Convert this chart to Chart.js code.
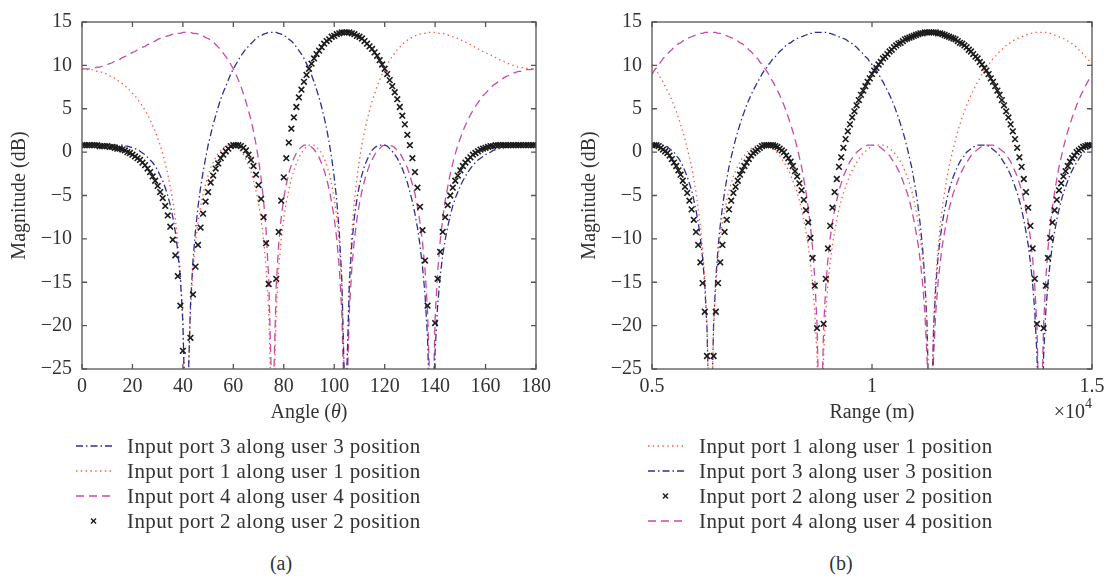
<!DOCTYPE html>
<html lang="en">
<head>
<meta charset="utf-8">
<title>Magnitude along angle and range</title>
<script src="https://cdn.jsdelivr.net/npm/chart.js@4.4.1/dist/chart.umd.min.js"></script>
<style>
  html, body { margin: 0; padding: 0; background: #fff; }
  #page { position: relative; width: 1111px; height: 578px; overflow: hidden;
          font-family: "Liberation Serif", "Times New Roman", serif; color: #333; }
  .plot { position: absolute; top: 0; height: 440px; }
  .legend { position: absolute; font-size: 21px; letter-spacing: 0.4px; }
  .legend .row { position: absolute; left: 0; height: 26px; white-space: nowrap; display: flex; align-items: center; }
  .legend svg { display: block; flex: none; }
  .caption { position: absolute; top: 550px; width: 60px; margin-left: -30px; text-align: center;
             font-size: 20px; line-height: 26px; }
</style>
</head>
<body>
<div id="page">
  <div class="plot" style="left:0;width:560px"><canvas id="chartA"></canvas></div>
  <div class="plot" style="left:560px;width:551px"><canvas id="chartB"></canvas></div>
  <div class="legend" id="legendA" style="left:76px;top:433px"></div>
  <div class="legend" id="legendB" style="left:648px;top:433px"></div>
  <div class="caption" style="left:281px">(a)</div>
  <div class="caption" style="left:841px">(b)</div>
</div>
<script>
'use strict';

/* ---- (a) magnitude against angle, 1 degree steps ---- */
const angleDeg = [
  0,1,2,3,4,5,6,7,8,9,10,11,12,13,14,15,16,17,18,19,
  20,21,22,23,24,25,26,27,28,29,30,31,32,33,34,35,36,37,38,39,
  40,41,42,43,44,45,46,47,48,49,50,51,52,53,54,55,56,57,58,59,
  60,61,62,63,64,65,66,67,68,69,70,71,72,73,74,75,76,77,78,79,
  80,81,82,83,84,85,86,87,88,89,90,91,92,93,94,95,96,97,98,99,
  100,101,102,103,104,105,106,107,108,109,110,111,112,113,114,115,116,117,118,119,
  120,121,122,123,124,125,126,127,128,129,130,131,132,133,134,135,136,137,138,139,
  140,141,142,143,144,145,146,147,148,149,150,151,152,153,154,155,156,157,158,159,
  160,161,162,163,164,165,166,167,168,169,170,171,172,173,174,175,176,177,178,179,
  180
];

const port3Angle = [
  0.8,0.8,0.8,0.8,0.8,0.8,0.8,0.8,0.8,0.8,
  0.8,0.8,0.8,0.8,0.8,0.8,0.8,0.7,0.7,0.6,
  0.5,0.4,0.3,0.1,-0.1,-0.3,-0.6,-0.9,-1.2,-1.6,
  -2.1,-2.7,-3.3,-4.1,-5.0,-6.1,-7.5,-9.2,-11.5,-14.6,
  -19.7,-31.7,-27.7,-17.7,-12.5,-9.0,-6.3,-4.1,-2.3,-0.7,
  0.8,2.0,3.2,4.2,5.2,6.1,6.9,7.6,8.3,9.0,
  9.6,10.1,10.6,11.1,11.5,11.9,12.2,12.5,12.8,13.1,
  13.3,13.4,13.6,13.7,13.8,13.8,13.8,13.8,13.7,13.6,
  13.4,13.3,13.0,12.8,12.5,12.1,11.7,11.3,10.8,10.2,
  9.6,8.9,8.1,7.2,6.3,5.2,4.0,2.7,1.1,-0.7,
  -2.9,-5.6,-9.2,-14.6,-26.0,-25.5,-15.2,-10.5,-7.5,-5.4,
  -3.8,-2.6,-1.6,-0.9,-0.3,0.2,0.5,0.7,0.8,0.8,
  0.8,0.7,0.4,0.1,-0.3,-0.7,-1.3,-1.9,-2.7,-3.5,
  -4.6,-5.7,-7.1,-8.7,-10.7,-13.2,-16.4,-21.4,-31.3,-35.0,
  -22.9,-17.7,-14.3,-11.9,-10.1,-8.6,-7.3,-6.2,-5.3,-4.6,
  -3.9,-3.3,-2.8,-2.3,-1.9,-1.5,-1.2,-0.9,-0.7,-0.5,
  -0.3,-0.1,0.0,0.2,0.3,0.4,0.4,0.5,0.6,0.6,
  0.7,0.7,0.7,0.7,0.8,0.8,0.8,0.8,0.8,0.8,0.8
];

const port1Angle = [
  9.6,9.6,9.5,9.5,9.5,9.4,9.3,9.3,9.2,9.1,
  9.0,8.8,8.7,8.5,8.3,8.1,7.9,7.7,7.4,7.1,
  6.8,6.5,6.1,5.7,5.3,4.8,4.3,3.7,3.1,2.4,
  1.6,0.8,-0.2,-1.3,-2.5,-4.0,-5.6,-7.7,-10.3,-13.8,
  -19.2,-31.4,-28.0,-18.3,-13.5,-10.4,-8.1,-6.3,-4.8,-3.7,
  -2.7,-1.8,-1.2,-0.6,-0.1,0.2,0.5,0.7,0.8,0.8,
  0.8,0.7,0.4,0.1,-0.3,-0.9,-1.5,-2.3,-3.3,-4.5,
  -5.9,-7.7,-10.1,-13.3,-18.2,-28.8,-29.6,-18.4,-13.3,-10.0,
  -7.6,-5.8,-4.3,-3.1,-2.1,-1.3,-0.6,-0.1,0.3,0.6,
  0.8,0.8,0.8,0.6,0.3,-0.1,-0.7,-1.5,-2.4,-3.7,
  -5.3,-7.5,-10.5,-15.4,-26.4,-25.2,-14.4,-9.1,-5.6,-3.0,
  -0.9,0.9,2.4,3.7,4.8,5.8,6.7,7.6,8.3,9.0,
  9.6,10.1,10.6,11.0,11.4,11.8,12.1,12.4,12.7,12.9,
  13.1,13.2,13.4,13.5,13.6,13.7,13.7,13.8,13.8,13.8,
  13.8,13.7,13.7,13.7,13.6,13.5,13.4,13.3,13.2,13.1,
  13.0,12.8,12.7,12.5,12.4,12.2,12.1,11.9,11.8,11.6,
  11.5,11.3,11.2,11.0,10.9,10.7,10.6,10.5,10.3,10.2,
  10.1,10.0,9.9,9.8,9.8,9.7,9.7,9.6,9.6,9.6,9.6
];

const port4Angle = [
  9.6,9.6,9.6,9.6,9.7,9.7,9.8,9.8,9.9,10.0,
  10.1,10.2,10.3,10.5,10.6,10.7,10.9,11.0,11.2,11.3,
  11.5,11.6,11.8,11.9,12.1,12.2,12.4,12.5,12.7,12.8,
  13.0,13.1,13.2,13.3,13.4,13.5,13.6,13.7,13.7,13.7,
  13.8,13.8,13.8,13.8,13.7,13.7,13.6,13.5,13.4,13.2,
  13.1,12.9,12.7,12.4,12.1,11.8,11.4,11.0,10.6,10.1,
  9.6,9.0,8.3,7.6,6.7,5.8,4.8,3.7,2.4,0.9,
  -0.9,-3.0,-5.6,-9.1,-14.4,-25.2,-26.4,-15.4,-10.5,-7.5,
  -5.3,-3.7,-2.4,-1.5,-0.7,-0.1,0.3,0.6,0.8,0.8,
  0.8,0.6,0.3,-0.1,-0.6,-1.3,-2.1,-3.1,-4.3,-5.8,
  -7.6,-10.0,-13.3,-18.4,-29.6,-28.8,-18.2,-13.3,-10.1,-7.7,
  -5.9,-4.5,-3.3,-2.3,-1.5,-0.9,-0.3,0.1,0.4,0.7,
  0.8,0.8,0.8,0.7,0.5,0.2,-0.1,-0.6,-1.2,-1.8,
  -2.7,-3.7,-4.8,-6.3,-8.1,-10.4,-13.5,-18.3,-28.0,-31.4,
  -19.2,-13.8,-10.3,-7.7,-5.6,-4.0,-2.5,-1.3,-0.2,0.8,
  1.6,2.4,3.1,3.7,4.3,4.8,5.3,5.7,6.1,6.5,
  6.8,7.1,7.4,7.7,7.9,8.1,8.3,8.5,8.7,8.8,
  9.0,9.1,9.2,9.3,9.3,9.4,9.5,9.5,9.5,9.6,9.6
];

const port2Angle = [
  0.8,0.8,0.8,0.8,0.8,0.8,0.8,0.7,0.7,0.7,
  0.7,0.6,0.6,0.5,0.4,0.4,0.3,0.2,0.0,-0.1,
  -0.3,-0.5,-0.7,-0.9,-1.2,-1.5,-1.9,-2.3,-2.8,-3.3,
  -3.9,-4.6,-5.3,-6.2,-7.3,-8.6,-10.1,-11.9,-14.3,-17.7,
  -22.9,-35.0,-31.3,-21.4,-16.4,-13.2,-10.7,-8.7,-7.1,-5.7,
  -4.6,-3.5,-2.7,-1.9,-1.3,-0.7,-0.3,0.1,0.4,0.7,
  0.8,0.8,0.8,0.7,0.5,0.2,-0.3,-0.9,-1.6,-2.6,
  -3.8,-5.4,-7.5,-10.5,-15.2,-25.5,-26.0,-14.6,-9.2,-5.6,
  -2.9,-0.7,1.1,2.7,4.0,5.2,6.3,7.2,8.1,8.9,
  9.6,10.2,10.8,11.3,11.7,12.1,12.5,12.8,13.0,13.3,
  13.4,13.6,13.7,13.8,13.8,13.8,13.8,13.7,13.6,13.4,
  13.3,13.1,12.8,12.5,12.2,11.9,11.5,11.1,10.6,10.1,
  9.6,9.0,8.3,7.6,6.9,6.1,5.2,4.2,3.2,2.0,
  0.8,-0.7,-2.3,-4.1,-6.3,-9.0,-12.5,-17.7,-27.7,-31.7,
  -19.7,-14.6,-11.5,-9.2,-7.5,-6.1,-5.0,-4.1,-3.3,-2.7,
  -2.1,-1.6,-1.2,-0.9,-0.6,-0.3,-0.1,0.1,0.3,0.4,
  0.5,0.6,0.7,0.7,0.8,0.8,0.8,0.8,0.8,0.8,
  0.8,0.8,0.8,0.8,0.8,0.8,0.8,0.8,0.8,0.8,0.8
];

/* ---- (b) magnitude against range, 50 m steps ---- */
const rangeM = [
  5000,5050,5100,5150,5200,5250,5300,5350,5400,5450,
  5500,5550,5600,5650,5700,5750,5800,5850,5900,5950,
  6000,6050,6100,6150,6200,6250,6300,6350,6400,6450,
  6500,6550,6600,6650,6700,6750,6800,6850,6900,6950,
  7000,7050,7100,7150,7200,7250,7300,7350,7400,7450,
  7500,7550,7600,7650,7700,7750,7800,7850,7900,7950,
  8000,8050,8100,8150,8200,8250,8300,8350,8400,8450,
  8500,8550,8600,8650,8700,8750,8800,8850,8900,8950,
  9000,9050,9100,9150,9200,9250,9300,9350,9400,9450,
  9500,9550,9600,9650,9700,9750,9800,9850,9900,9950,
  10000,10050,10100,10150,10200,10250,10300,10350,10400,10450,
  10500,10550,10600,10650,10700,10750,10800,10850,10900,10950,
  11000,11050,11100,11150,11200,11250,11300,11350,11400,11450,
  11500,11550,11600,11650,11700,11750,11800,11850,11900,11950,
  12000,12050,12100,12150,12200,12250,12300,12350,12400,12450,
  12500,12550,12600,12650,12700,12750,12800,12850,12900,12950,
  13000,13050,13100,13150,13200,13250,13300,13350,13400,13450,
  13500,13550,13600,13650,13700,13750,13800,13850,13900,13950,
  14000,14050,14100,14150,14200,14250,14300,14350,14400,14450,
  14500,14550,14600,14650,14700,14750,14800,14850,14900,14950,
  15000
];

const port1Range = [
  10.1,9.7,9.4,9.0,8.5,8.1,7.6,
  7.1,6.6,6.0,5.4,4.7,4.0,3.2,2.4,1.5,0.5,
  -0.6,-1.7,-3.1,-4.6,-6.4,-8.5,-11.1,-14.6,-19.8,-30.9,
  -31.1,-20.3,-15.4,-12.2,-9.9,-8.1,-6.7,-5.5,-4.4,-3.6,
  -2.8,-2.2,-1.6,-1.1,-0.7,-0.4,0.0,0.2,0.4,0.6,
  0.7,0.8,0.8,0.8,0.8,0.8,0.7,0.5,0.3,0.1,
  -0.1,-0.4,-0.8,-1.2,-1.6,-2.1,-2.6,-3.3,-4.0,-4.7,
  -5.6,-6.6,-7.8,-9.2,-10.7,-12.7,-15.1,-18.4,-23.5,-34.4,
  -34.4,-23.5,-18.4,-15.1,-12.7,-10.7,-9.2,-7.8,-6.6,-5.6,
  -4.7,-4.0,-3.3,-2.6,-2.1,-1.6,-1.2,-0.8,-0.4,-0.1,
  0.1,0.3,0.5,0.7,0.8,0.8,0.8,0.8,0.8,0.7,
  0.6,0.4,0.2,0.0,-0.4,-0.7,-1.1,-1.6,-2.2,-2.8,
  -3.6,-4.4,-5.5,-6.7,-8.1,-9.9,-12.2,-15.4,-20.3,-31.1,
  -30.9,-19.8,-14.6,-11.1,-8.5,-6.4,-4.6,-3.1,-1.7,-0.6,
  0.5,1.5,2.4,3.2,4.0,4.7,5.4,6.0,6.6,7.1,
  7.6,8.1,8.5,9.0,9.4,9.7,10.1,10.4,10.8,11.0,
  11.3,11.6,11.8,12.1,12.3,12.5,12.6,12.8,13.0,13.1,
  13.2,13.3,13.4,13.5,13.6,13.7,13.7,13.8,13.8,13.8,
  13.8,13.8,13.8,13.7,13.7,13.6,13.5,13.4,13.3,13.2,
  13.1,13.0,12.8,12.6,12.5,12.3,12.1,11.8,11.6,11.3,
  11.0,10.8,10.4,10.1
];

const port3Range = [
  0.7,0.8,0.8,0.8,0.8,0.8,0.7,
  0.6,0.4,0.2,0.0,-0.4,-0.7,-1.1,-1.6,-2.2,-2.8,
  -3.6,-4.4,-5.5,-6.7,-8.1,-9.9,-12.2,-15.4,-20.3,-31.1,
  -30.9,-19.8,-14.6,-11.1,-8.5,-6.4,-4.6,-3.1,-1.7,-0.6,
  0.5,1.5,2.4,3.2,4.0,4.7,5.4,6.0,6.6,7.1,
  7.6,8.1,8.5,9.0,9.4,9.7,10.1,10.4,10.8,11.0,
  11.3,11.6,11.8,12.1,12.3,12.5,12.6,12.8,13.0,13.1,
  13.2,13.3,13.4,13.5,13.6,13.7,13.7,13.8,13.8,13.8,
  13.8,13.8,13.8,13.7,13.7,13.6,13.5,13.4,13.3,13.2,
  13.1,13.0,12.8,12.6,12.5,12.3,12.1,11.8,11.6,11.3,
  11.0,10.8,10.4,10.1,9.7,9.4,9.0,8.5,8.1,7.6,
  7.1,6.6,6.0,5.4,4.7,4.0,3.2,2.4,1.5,0.5,
  -0.6,-1.7,-3.1,-4.6,-6.4,-8.5,-11.1,-14.6,-19.8,-30.9,
  -31.1,-20.3,-15.4,-12.2,-9.9,-8.1,-6.7,-5.5,-4.4,-3.6,
  -2.8,-2.2,-1.6,-1.1,-0.7,-0.4,0.0,0.2,0.4,0.6,
  0.7,0.8,0.8,0.8,0.8,0.8,0.7,0.5,0.3,0.1,
  -0.1,-0.4,-0.8,-1.2,-1.6,-2.1,-2.6,-3.3,-4.0,-4.7,
  -5.6,-6.6,-7.8,-9.2,-10.7,-12.7,-15.1,-18.4,-23.5,-34.4,
  -34.4,-23.5,-18.4,-15.1,-12.7,-10.7,-9.2,-7.8,-6.6,-5.6,
  -4.7,-4.0,-3.3,-2.6,-2.1,-1.6,-1.2,-0.8,-0.4,-0.1,
  0.1,0.3,0.5,0.7
];

const port2Range = [
  0.8,0.8,0.8,0.7,0.5,0.3,0.1,
  -0.1,-0.4,-0.8,-1.2,-1.6,-2.1,-2.6,-3.3,-4.0,-4.7,
  -5.6,-6.6,-7.8,-9.2,-10.7,-12.7,-15.1,-18.4,-23.5,-34.4,
  -34.4,-23.5,-18.4,-15.1,-12.7,-10.7,-9.2,-7.8,-6.6,-5.6,
  -4.7,-4.0,-3.3,-2.6,-2.1,-1.6,-1.2,-0.8,-0.4,-0.1,
  0.1,0.3,0.5,0.7,0.8,0.8,0.8,0.8,0.8,0.7,
  0.6,0.4,0.2,0.0,-0.4,-0.7,-1.1,-1.6,-2.2,-2.8,
  -3.6,-4.4,-5.5,-6.7,-8.1,-9.9,-12.2,-15.4,-20.3,-31.1,
  -30.9,-19.8,-14.6,-11.1,-8.5,-6.4,-4.6,-3.1,-1.7,-0.6,
  0.5,1.5,2.4,3.2,4.0,4.7,5.4,6.0,6.6,7.1,
  7.6,8.1,8.5,9.0,9.4,9.7,10.1,10.4,10.8,11.0,
  11.3,11.6,11.8,12.1,12.3,12.5,12.6,12.8,13.0,13.1,
  13.2,13.3,13.4,13.5,13.6,13.7,13.7,13.8,13.8,13.8,
  13.8,13.8,13.8,13.7,13.7,13.6,13.5,13.4,13.3,13.2,
  13.1,13.0,12.8,12.6,12.5,12.3,12.1,11.8,11.6,11.3,
  11.0,10.8,10.4,10.1,9.7,9.4,9.0,8.5,8.1,7.6,
  7.1,6.6,6.0,5.4,4.7,4.0,3.2,2.4,1.5,0.5,
  -0.6,-1.7,-3.1,-4.6,-6.4,-8.5,-11.1,-14.6,-19.8,-30.9,
  -31.1,-20.3,-15.4,-12.2,-9.9,-8.1,-6.7,-5.5,-4.4,-3.6,
  -2.8,-2.2,-1.6,-1.1,-0.7,-0.4,0.0,0.2,0.4,0.6,
  0.7,0.8,0.8,0.8
];

const port4Range = [
  9.0,9.4,9.7,10.1,10.4,10.8,11.0,
  11.3,11.6,11.8,12.1,12.3,12.5,12.6,12.8,13.0,13.1,
  13.2,13.3,13.4,13.5,13.6,13.7,13.7,13.8,13.8,13.8,
  13.8,13.8,13.8,13.7,13.7,13.6,13.5,13.4,13.3,13.2,
  13.1,13.0,12.8,12.6,12.5,12.3,12.1,11.8,11.6,11.3,
  11.0,10.8,10.4,10.1,9.7,9.4,9.0,8.5,8.1,7.6,
  7.1,6.6,6.0,5.4,4.7,4.0,3.2,2.4,1.5,0.5,
  -0.6,-1.7,-3.1,-4.6,-6.4,-8.5,-11.1,-14.6,-19.8,-30.9,
  -31.1,-20.3,-15.4,-12.2,-9.9,-8.1,-6.7,-5.5,-4.4,-3.6,
  -2.8,-2.2,-1.6,-1.1,-0.7,-0.4,0.0,0.2,0.4,0.6,
  0.7,0.8,0.8,0.8,0.8,0.8,0.7,0.5,0.3,0.1,
  -0.1,-0.4,-0.8,-1.2,-1.6,-2.1,-2.6,-3.3,-4.0,-4.7,
  -5.6,-6.6,-7.8,-9.2,-10.7,-12.7,-15.1,-18.4,-23.5,-34.4,
  -34.4,-23.5,-18.4,-15.1,-12.7,-10.7,-9.2,-7.8,-6.6,-5.6,
  -4.7,-4.0,-3.3,-2.6,-2.1,-1.6,-1.2,-0.8,-0.4,-0.1,
  0.1,0.3,0.5,0.7,0.8,0.8,0.8,0.8,0.8,0.7,
  0.6,0.4,0.2,0.0,-0.4,-0.7,-1.1,-1.6,-2.2,-2.8,
  -3.6,-4.4,-5.5,-6.7,-8.1,-9.9,-12.2,-15.4,-20.3,-31.1,
  -30.9,-19.8,-14.6,-11.1,-8.5,-6.4,-4.6,-3.1,-1.7,-0.6,
  0.5,1.5,2.4,3.2,4.0,4.7,5.4,6.0,6.6,7.1,
  7.6,8.1,8.5,9.0
];

/* ---- tick labels and legend texts ---- */
const magTickLabels   = ['\u221225', '\u221220', '\u221215', '\u221210', '\u22125', '0', '5', '10', '15'];
const rangeTickLabels = ['0.5', '1', '1.5'];
const labelPort1 = 'Input port 1 along user 1 position';
const labelPort2 = 'Input port 2 along user 2 position';
const labelPort3 = 'Input port 3 along user 3 position';
const labelPort4 = 'Input port 4 along user 4 position';

const FONT = '"Liberation Serif", "Times New Roman", serif';
const TEXT = '#333333';
const AXIS = '#555555';
const STYLE = {
    port1: {color: '#ff553a', dash: [1.4, 3.4]},
    port3: {color: '#2e2e96', dash: [7, 3, 1.5, 3]},
    port4: {color: '#c84aa2', dash: [8, 5]},
    port2: {color: '#1c1c1c'}
};

function toPoints(xs, ys) {
    return xs.map((x, i) => ({x: x, y: ys[i]}));
}
function lineSet(label, xs, ys, st) {
    return {
        label: label, data: toPoints(xs, ys),
        borderColor: st.color, backgroundColor: st.color,
        borderWidth: 1.3, borderDash: st.dash, borderCapStyle: 'butt',
        pointRadius: 0, pointHoverRadius: 0, tension: 0, fill: false, order: 2
    };
}
function markSet(label, xs, ys, st) {
    return {
        label: label, data: toPoints(xs, ys), showLine: false,
        borderColor: st.color, backgroundColor: st.color,
        pointStyle: 'crossRot', pointRadius: 4, pointHoverRadius: 4, borderWidth: 1.6, order: 1
    };
}

// box round the plot, with inward ticks on all four sides
const frame = {
    id: 'frame',
    afterDraw(chart) {
        const {ctx, chartArea: a, scales} = chart;
        const len = 5;
        ctx.save();
        ctx.strokeStyle = AXIS;
        ctx.lineWidth = 1.3;
        ctx.beginPath();
        scales.x.ticks.forEach(t => {
            const px = scales.x.getPixelForValue(t.value);
            ctx.moveTo(px, a.bottom); ctx.lineTo(px, a.bottom - len);
            ctx.moveTo(px, a.top);    ctx.lineTo(px, a.top + len);
        });
        scales.y.ticks.forEach(t => {
            const py = scales.y.getPixelForValue(t.value);
            ctx.moveTo(a.left, py);  ctx.lineTo(a.left + len, py);
            ctx.moveTo(a.right, py); ctx.lineTo(a.right - len, py);
        });
        ctx.stroke();
        ctx.strokeRect(a.left, a.top, a.right - a.left, a.bottom - a.top);
        ctx.restore();
    }
};

// mixed-style text under the x axis (italic theta, exponent)
const extraText = {
    id: 'extraText',
    afterDraw(chart, args, opts) {
        if (!opts.parts) return;
        const {ctx, chartArea: a} = chart;
        ctx.save();
        ctx.fillStyle = TEXT;
        ctx.textBaseline = 'middle';
        let w = 0;
        opts.parts.forEach(p => { ctx.font = p.font; w += ctx.measureText(p.text).width; });
        let x = opts.align === 'right' ? a.right - w : (a.left + a.right) / 2 - w / 2;
        opts.parts.forEach(p => {
            ctx.font = p.font;
            ctx.fillText(p.text, x, a.bottom + opts.dy + (p.rise || 0));
            x += ctx.measureText(p.text).width;
        });
        ctx.restore();
    }
};

function makeChart(id, sets, cfg) {
    return new Chart(document.getElementById(id), {
        type: 'line',
        data: {datasets: sets},
        options: {
            responsive: true,
            maintainAspectRatio: false,
            animation: false,
            events: [],
            layout: {padding: {top: 14, right: cfg.padRight, bottom: 0, left: 0}},
            plugins: {
                legend: {display: false},
                tooltip: {enabled: false},
                extraText: cfg.extra
            },
            scales: {
                x: {
                    type: 'linear', min: cfg.xMin, max: cfg.xMax,
                    grid: {display: false, drawTicks: false},
                    border: {display: false},
                    ticks: {
                        stepSize: cfg.xStep, padding: 6, color: TEXT, maxRotation: 0, autoSkip: false,
                        font: {family: FONT, size: 20},
                        callback: cfg.xLabel
                    },
                    title: cfg.xTitle,
                    afterFit: s => { s.height = 71; }
                },
                y: {
                    min: -25, max: 15,
                    grid: {display: false, drawTicks: false},
                    border: {display: false},
                    ticks: {
                        stepSize: 5, padding: 10, color: TEXT,
                        font: {family: FONT, size: 20},
                        callback: (v, i) => magTickLabels[i]
                    },
                    title: {
                        display: true, text: 'Magnitude (dB)', color: TEXT,
                        font: {family: FONT, size: 20},
                        padding: {top: cfg.yTitlePad, bottom: 0}
                    },
                    afterFit: s => { s.width = cfg.yWidth; }
                }
            }
        },
        plugins: [frame, extraText]
    });
}

const chartA = makeChart('chartA', [
    lineSet(labelPort3, angleDeg, port3Angle, STYLE.port3),
    lineSet(labelPort1, angleDeg, port1Angle, STYLE.port1),
    lineSet(labelPort4, angleDeg, port4Angle, STYLE.port4),
    markSet(labelPort2, angleDeg, port2Angle, STYLE.port2)
], {
    xMin: 0, xMax: 180, xStep: 20, padRight: 24, yWidth: 82, yTitlePad: 8,
    xLabel: v => String(v),
    xTitle: {display: false},
    extra: {
        align: 'center', dy: 44,
        parts: [
            {text: 'Angle (', font: '20px ' + FONT},
            {text: '\u03B8', font: 'italic 20px ' + FONT},
            {text: ')', font: '20px ' + FONT}
        ]
    }
});

const chartB = makeChart('chartB', [
    lineSet(labelPort1, rangeM, port1Range, STYLE.port1),
    lineSet(labelPort3, rangeM, port3Range, STYLE.port3),
    markSet(labelPort2, rangeM, port2Range, STYLE.port2),
    lineSet(labelPort4, rangeM, port4Range, STYLE.port4)
], {
    xMin: 5000, xMax: 15000, xStep: 5000, padRight: 19, yWidth: 92, yTitlePad: 18,
    xLabel: (v, i) => rangeTickLabels[i],
    xTitle: {display: true, text: 'Range (m)', color: TEXT, font: {family: FONT, size: 20}, padding: {top: 0, bottom: 15}},
    extra: {
        align: 'right', dy: 44,
        parts: [
            {text: '\u00D710', font: '20px ' + FONT},
            {text: '4', font: '14px ' + FONT, rise: -9}
        ]
    }
});

// legend under each plot, taken from the datasets in their order
function buildLegend(elId, chart) {
    const box = document.getElementById(elId);
    chart.data.datasets.forEach((ds, i) => {
        const row = document.createElement('div');
        row.className = 'row';
        row.style.top = (i * 25) + 'px';
        let mark;
        if (ds.showLine === false) {
            mark = '<line x1="15" y1="3.5" x2="20" y2="8.5"/><line x1="15" y1="8.5" x2="20" y2="3.5"/>';
        } else {
            mark = '<line x1="0" y1="6" x2="36" y2="6" stroke-dasharray="' + ds.borderDash.join(' ') + '"/>';
        }
        row.innerHTML = '<svg width="36" height="12" stroke="' + ds.borderColor +
            '" stroke-width="1.4" fill="none">' + mark + '</svg>' +
            '<span style="margin-left:15px">' + ds.label + '</span>';
        box.appendChild(row);
    });
}
buildLegend('legendA', chartA);
buildLegend('legendB', chartB);
</script>
</body>
</html>
